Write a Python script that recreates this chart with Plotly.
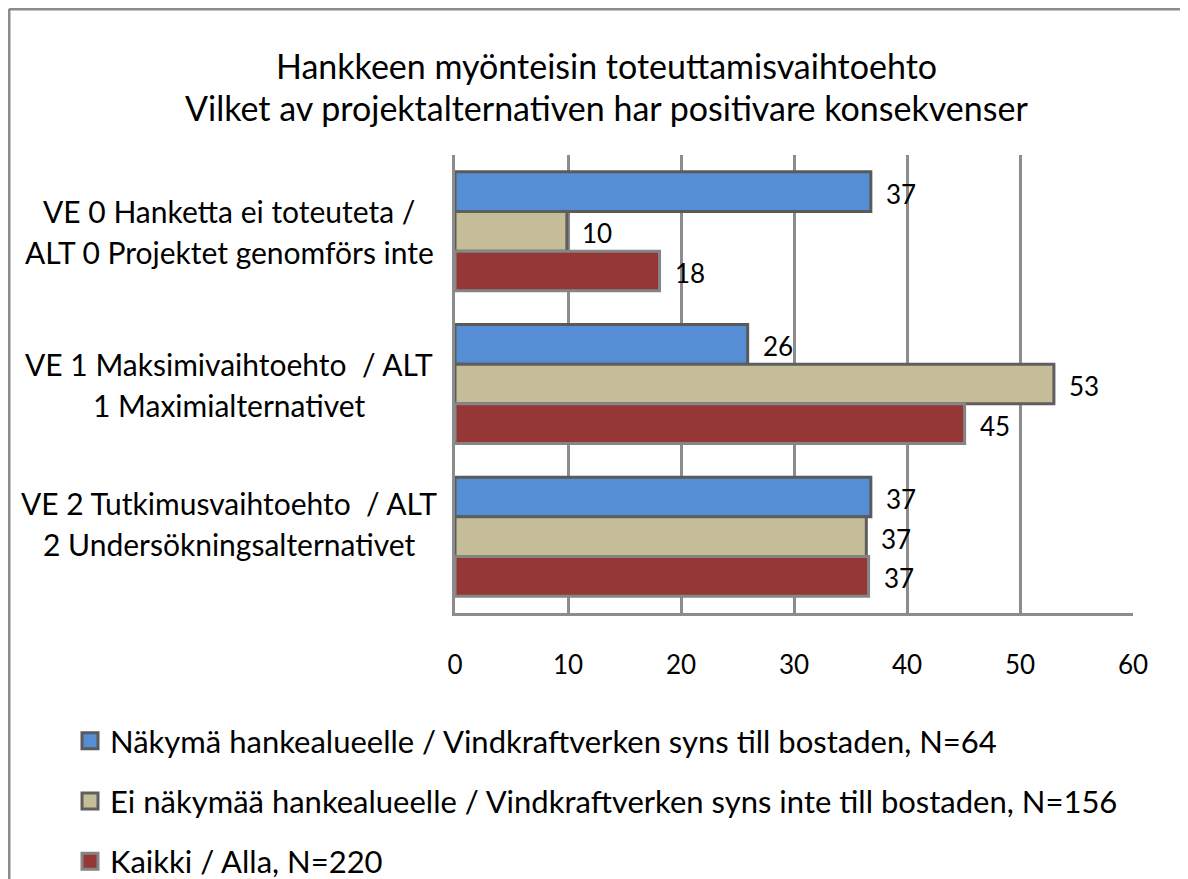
import plotly.graph_objects as go

categories = [
    "VE 0 Hanketta ei toteuteta /<br>ALT 0 Projektet genomförs inte",
    "VE 1 Maksimivaihtoehto  / ALT<br>1 Maximialternativet",
    "VE 2 Tutkimusvaihtoehto  / ALT<br>2 Undersökningsalternativet",
]
series_names = [
    "Näkymä hankealueelle / Vindkraftverken syns till bostaden, N=64",
    "Ei näkymää hankealueelle / Vindkraftverken syns inte till bostaden, N=156",
    "Kaikki / Alla, N=220",
]
values_visible = [36.8, 25.9, 36.8]
values_not_visible = [9.9, 53.0, 36.4]
values_all = [18.1, 45.1, 36.6]
labels_visible = ["37", "26", "37"]
labels_not_visible = ["10", "53", "37"]
labels_all = ["18", "45", "37"]
x_ticks = [0, 10, 20, 30, 40, 50, 60]

series_values = [values_visible, values_not_visible, values_all]
series_labels = [labels_visible, labels_not_visible, labels_all]
fill_colors = ["#558ED5", "#C4BD97", "#953735"]
line_colors = ["#5A5A5A", "#5E5E5E", "#858585"]
label_yshift = [0, 0, -14]  # styling: vertical nudge of category labels

FONT = "Lato"
OFF = 8  # page body margin
W, H = 1180, 905
L, R, T, B = 447, 55, 147, 300
pw, ph = W - L - R, H - T - B

def px_to_paper_x(px):
    return (px - OFF - L) / pw

def px_to_paper_y(py):
    return (H - B - (py - OFF)) / ph

fig = go.Figure()
ypos = list(range(len(categories)))
for k in range(3):
    fig.add_trace(go.Bar(
        x=series_values[k], y=ypos, orientation="h",
        name=series_names[k], legendgroup=str(k), showlegend=False,
        marker=dict(color=fill_colors[k], line=dict(color=line_colors[k], width=3)),
        hoverinfo="skip",
    ))
# legend entries (square swatches like the original)
for k in range(3):
    fig.add_trace(go.Scatter(
        x=[None], y=[None], mode="markers", name=series_names[k],
        legendgroup=str(k), showlegend=True,
        marker=dict(symbol="square", size=16, color=fill_colors[k],
                    line=dict(color=line_colors[k], width=3)),
        hoverinfo="skip",
    ))

n_series = 3
group_width = 0.78
bar_w = group_width / n_series
annotations = []
for k in range(n_series):
    for i, v in enumerate(series_values[k]):
        annotations.append(dict(
            x=v, y=i + (k - 1) * bar_w, xref="x", yref="y",
            text=series_labels[k][i], showarrow=False,
            xanchor="left", yanchor="middle", xshift=13, yshift=-2,
            font=dict(family=FONT, size=26, color="black"),
        ))

for i, cat in enumerate(categories):
    lines = cat.split("<br>")
    for j, line in enumerate(lines):
        annotations.append(dict(
            x=px_to_paper_x(229), y=i, xref="paper", yref="y",
            text=line, showarrow=False, xanchor="center", yanchor="middle",
            yshift=20 - 41 * j - label_yshift[i],
            font=dict(family=FONT, size=30, color="black"),
        ))

title_lines = ["Hankkeen myönteisin toteuttamisvaihtoehto",
               "Vilket av projektalternativen har positivare konsekvenser"]
for j, t in enumerate(title_lines):
    annotations.append(dict(
        x=px_to_paper_x(606), y=px_to_paper_y(65 + 42 * j), xref="paper", yref="paper",
        text=t, showarrow=False, xanchor="center", yanchor="middle",
        font=dict(family=FONT, size=34, color="black"),
    ))

shapes = [
    dict(type="line", xref="paper", yref="paper",
         x0=px_to_paper_x(OFF + 1), x1=px_to_paper_x(OFF + W + 5),
         y0=px_to_paper_y(OFF + 1), y1=px_to_paper_y(OFF + 1),
         line=dict(color="#8C8C8C", width=3)),
    dict(type="line", xref="paper", yref="paper",
         x0=px_to_paper_x(OFF + 1), x1=px_to_paper_x(OFF + 1),
         y0=px_to_paper_y(OFF + 1), y1=px_to_paper_y(OFF + H + 5),
         line=dict(color="#8C8C8C", width=3)),
]

fig.update_layout(
    width=W, height=H,
    margin=dict(l=L, r=R, t=T, b=B, pad=0),
    paper_bgcolor="white", plot_bgcolor="white",
    barmode="group", bargap=1 - group_width, bargroupgap=0,
    font=dict(family=FONT, size=26, color="black"),
    showlegend=True,
    legend=dict(
        x=px_to_paper_x(70), y=px_to_paper_y(714), xanchor="left", yanchor="top",
        orientation="v", tracegroupgap=17, traceorder="grouped",
        itemsizing="trace",
        font=dict(family=FONT, size=31, color="black"),
        bgcolor="rgba(0,0,0,0)",
    ),
    annotations=annotations,
    shapes=shapes,
    xaxis=dict(
        range=[0, 60], tickvals=x_ticks, ticktext=[str(t) for t in x_ticks],
        showgrid=True, gridcolor="#8C8C8C", gridwidth=3,
        showline=True, linecolor="#8C8C8C", linewidth=3,
        zeroline=False, ticks="", ticklabelstandoff=27,
        tickfont=dict(family=FONT, size=26, color="black"),
        fixedrange=True,
    ),
    yaxis=dict(
        range=[2.5, -0.5], showticklabels=False, showgrid=False,
        showline=True, linecolor="#8C8C8C", linewidth=3,
        zeroline=False, ticks="", fixedrange=True,
    ),
)

fig.write_html("out.html")
